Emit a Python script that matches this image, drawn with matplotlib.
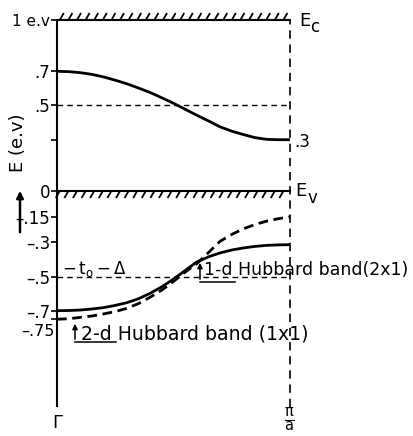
import numpy as np
import matplotlib
matplotlib.use("Agg")
import matplotlib.pyplot as plt
from matplotlib.collections import LineCollection

# ---- data ----
k = [0.0, 0.05, 0.1, 0.15, 0.2, 0.25, 0.3, 0.35, 0.4, 0.45, 0.5,
     0.55, 0.6, 0.65, 0.7, 0.75, 0.8, 0.85, 0.9, 0.95, 1.0]  # fraction of Γ -> π/a
E_upper = [0.70, 0.698, 0.692, 0.682, 0.667, 0.648, 0.627, 0.602, 0.576, 0.545, 0.513,
           0.478, 0.443, 0.41, 0.375, 0.35, 0.33, 0.312, 0.302, 0.30, 0.30]
E_1d = [-0.70, -0.699, -0.696, -0.69, -0.682, -0.669, -0.653, -0.63, -0.598, -0.56, -0.515,
        -0.465, -0.415, -0.385, -0.362, -0.345, -0.333, -0.324, -0.318, -0.315, -0.314]
E_2d = [-0.75, -0.747, -0.739, -0.731, -0.719, -0.705, -0.686, -0.658, -0.621, -0.579, -0.529,
        -0.474, -0.425, -0.36, -0.294, -0.254, -0.221, -0.196, -0.176, -0.162, -0.151]
E_c, E_v = 1.0, 0.0
ref_levels = [0.5, -0.5]
ytick_vals = [1.0, 0.7, 0.5, 0.3, 0.0, -0.15, -0.3, -0.5, -0.7, -0.75]
ytick_labels = ["1 e.v", ".7", ".5", "", "0", "\u2013.15", "\u2013.3", "\u2013.5", "\u2013.7", ""]
label_075 = "\u2013.75"

W, H = 414, 436
fig = plt.figure(figsize=(W / 100, H / 100), dpi=100)
fig.patch.set_facecolor("white")

def fx(x):
    return x / W

def fy(y):
    return 1 - y / H

x_left, x_right = 57, 290
y_top, y_bot = 20, 407
ax = fig.add_axes([fx(x_left), fy(y_bot), (x_right - x_left) / W, (y_bot - y_top) / H])
ax.set_xlim(0, 1)
ymin = E_c - (y_bot - y_top) / 171.0
ax.set_ylim(ymin, E_c)
for s in ax.spines.values():
    s.set_visible(False)
ax.set_xticks([])

# left axis line
ax.plot([0, 0], [ymin, E_c], color="black", lw=1.5, clip_on=False, solid_capstyle="butt")
# right dashed line
ax.plot([1, 1], [ymin, E_c], color="black", lw=1.2, ls=(0, (5, 3.5)), clip_on=False)

# ticks
ax.set_yticks(ytick_vals)
ax.set_yticklabels(ytick_labels, fontsize=12)
ax.tick_params(axis="y", direction="out", length=4, width=1.2, pad=1, left=True)
for lbl in ax.get_yticklabels():
    if lbl.get_text() == "1 e.v":
        lbl.set_fontsize(11)
fig.text(fx(55), fy(331), label_075, fontsize=11.5, ha="right", va="center")

# hatched band edges
for lev, sign in [(E_c, 1), (E_v, -1)]:
    ax.plot([0, 1], [lev, lev], color="black", lw=1.5, clip_on=False)
    segs = []
    dy = 7 / 171.0
    dx = 4 / 233.0
    for xi in np.arange(0.012, 0.99, 8.6 / 233.0):
        if sign > 0:
            segs.append([(xi, lev), (xi + dx, lev + dy)])
        else:
            segs.append([(xi - dx, lev - dy), (xi, lev)])
    ax.add_collection(LineCollection(segs, colors="black", linewidths=1.3, clip_on=False))

# reference dashed levels
for lev in ref_levels:
    ax.plot([0, 1], [lev, lev], color="black", lw=1.0, ls=(0, (4, 3)))

# bands
ax.plot(k, E_upper, color="black", lw=2.0)
ax.plot(k, E_1d, color="black", lw=2.0)
ax.plot(k, E_2d, color="black", lw=2.0, ls=(0, (3.5, 2)))

# right side labels
fig.text(fx(299), fy(21), "E", fontsize=13, ha="left", va="center")
fig.text(fx(310), fy(27), "c", fontsize=12, ha="left", va="center")
fig.text(fx(295), fy(191), "E", fontsize=13, ha="left", va="center")
fig.text(fx(308), fy(198), "v", fontsize=12, ha="left", va="center")
fig.text(fx(294), fy(142), ".3", fontsize=12, ha="left", va="center")

# bottom labels
fig.text(fx(57), fy(423), "\u0393", fontsize=13, ha="center", va="center")
fig.text(fx(289), fy(420), r"$\mathregular{\frac{\pi}{a}}$", fontsize=15, ha="center", va="center")

# y label and arrow
fig.text(fx(18), fy(143), "E (e.v)", fontsize=13, rotation=90, ha="center", va="center")
fig.add_artist(matplotlib.patches.FancyArrowPatch(
    (fx(20), fy(235)), (fx(20), fy(188)), transform=fig.transFigure,
    arrowstyle="-|>,head_length=4,head_width=2", color="black", lw=1.8))

# -t0 - Delta
fig.text(fx(62), fy(269), r"$\mathregular{-\,t_o - \Delta}$", fontsize=12, ha="left", va="center")

# Hubbard band annotations
def annot(xa, ya_top, ya_bot, x_ul_end, tx, ty, txt, fs):
    fig.add_artist(matplotlib.patches.FancyArrowPatch(
        (fx(xa), fy(ya_bot)), (fx(xa), fy(ya_top)), transform=fig.transFigure,
        arrowstyle="-|>,head_length=3,head_width=1.5", color="black", lw=1.1))
    fig.add_artist(matplotlib.lines.Line2D([fx(xa), fx(x_ul_end)], [fy(ya_bot), fy(ya_bot)],
                                           transform=fig.transFigure, color="black", lw=1.1))
    fig.text(fx(tx), fy(ty), txt, fontsize=fs, ha="left", va="center")

annot(200, 260, 282, 235, 204, 270, "1-d Hubbard band(2x1)", 12.5)
annot(75, 321, 342, 116, 81, 334, "2-d Hubbard band (1x1)", 13.6)

fig.savefig("out.png", dpi=100)
